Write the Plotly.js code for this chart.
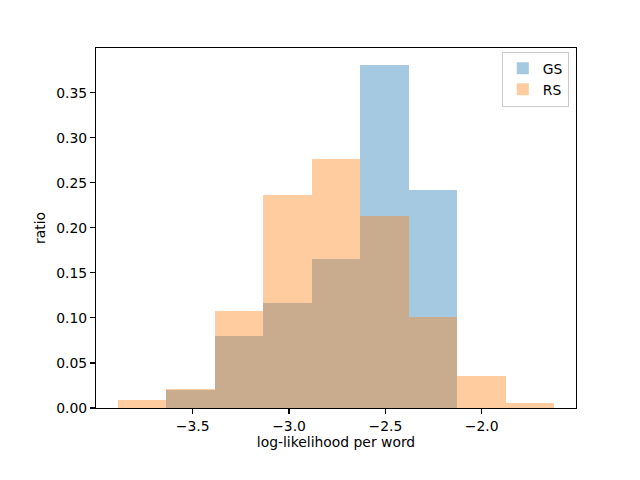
<!DOCTYPE html>
<html>
<head>
<meta charset="utf-8">
<script src="https://cdn.plot.ly/plotly-3.0.1.min.js"></script>
<style>html,body{margin:0;padding:0;background:#fff}#chart{width:640px;height:480px}</style>
</head>
<body>
<div id="chart"></div>
<script>
// Shared bin edges (log-likelihood per word)
const binEdges = [-3.888, -3.6365, -3.385, -3.1335, -2.882, -2.6305, -2.379, -2.1275, -1.876, -1.6245];
// GS occupies bins 1..6 of the edges above
const gsStartBin = 1;
const gsRatio = [0.0195, 0.0802, 0.1167, 0.1659, 0.3806, 0.2420];
// RS occupies bins 0..8
const rsStartBin = 0;
const rsRatio = [0.0092, 0.0206, 0.1079, 0.2368, 0.2764, 0.2129, 0.1012, 0.0358, 0.0059];

const xTicks = [-3.5, -3.0, -2.5, -2.0];
const yTicks = [0, 0.05, 0.10, 0.15, 0.20, 0.25, 0.30, 0.35];

function barData(start, vals) {
  const x = [], w = [];
  for (let i = 0; i < vals.length; i++) {
    const a = binEdges[start + i], b = binEdges[start + i + 1];
    x.push((a + b) / 2);
    w.push(b - a);
  }
  return {x, w};
}
const gs = barData(gsStartBin, gsRatio);
const rs = barData(rsStartBin, rsRatio);

const font = {family: 'DejaVu Sans, sans-serif', size: 13.9, color: '#000'};

const traces = [
  {type: 'bar', name: 'GS', x: gs.x, y: gsRatio, width: gs.w,
   marker: {color: 'rgba(31,119,180,0.4)', line: {width: 0}}},
  {type: 'bar', name: 'RS', x: rs.x, y: rsRatio, width: rs.w,
   marker: {color: 'rgba(255,127,14,0.4)', line: {width: 0}}}
];

const layout = {
  width: 640, height: 480,
  margin: {l: 96, r: 64, t: 48, b: 72, pad: 0},
  paper_bgcolor: '#fff', plot_bgcolor: '#fff',
  barmode: 'overlay', bargap: 0,
  font: font,
  showlegend: true,
  legend: {x: 0.985, xanchor: 'right', y: 0.99, yanchor: 'top',
           bordercolor: '#cccccc', borderwidth: 1, bgcolor: 'rgba(255,255,255,0.8)',
           font: {family: 'DejaVu Sans, sans-serif', size: 13.9, color: '#000'}},
  xaxis: {
    range: [-4.0017, -1.5108],
    tickvals: xTicks, ticktext: xTicks.map(v => (v < 0 ? '\u2212' : '') + Math.abs(v).toFixed(1)),
    ticks: 'outside', ticklen: 5, tickwidth: 1.1, tickcolor: '#000',
    showline: true, linecolor: '#000', linewidth: 1.1, mirror: true,
    showgrid: false, zeroline: false,
    title: {text: 'log-likelihood per word', font: font, standoff: 4}
  },
  yaxis: {
    range: [0, 0.3996],
    tickvals: yTicks, ticktext: yTicks.map(v => v.toFixed(2)),
    ticks: 'outside', ticklen: 5, tickwidth: 1.1, tickcolor: '#000',
    showline: true, linecolor: '#000', linewidth: 1.1, mirror: true,
    showgrid: false, zeroline: false,
    title: {text: 'ratio', font: font, standoff: 7}
  }
};

Plotly.newPlot('chart', traces, layout, {displayModeBar: false, staticPlot: true});
</script>
</body>
</html>
